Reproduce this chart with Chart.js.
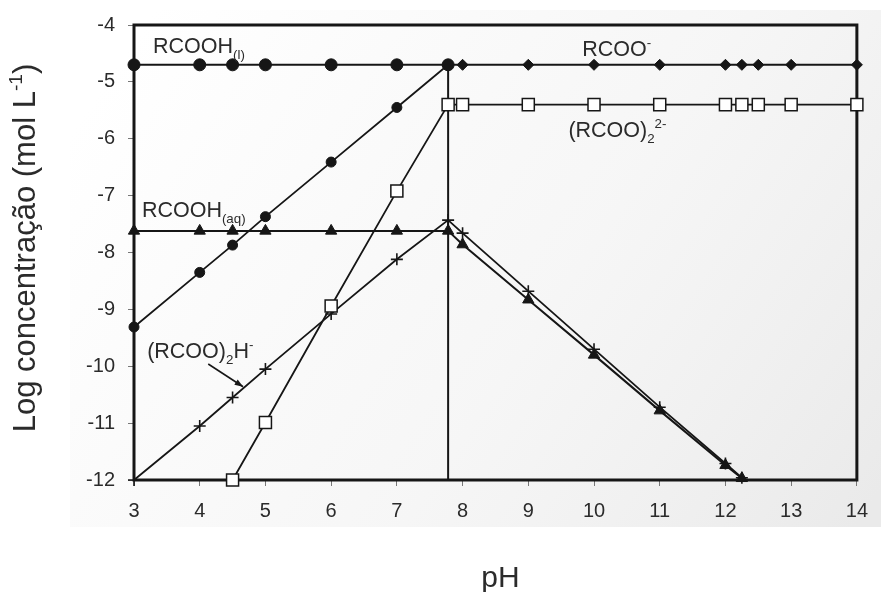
<!DOCTYPE html>
<html>
<head>
<meta charset="utf-8">
<title>Log concentração vs pH</title>
<script src="https://cdn.jsdelivr.net/npm/chart.js@4.4.0/dist/chart.umd.min.js"></script>
<style>
  html, body { margin: 0; padding: 0; background: #fff; }
  #wrap { width: 881px; height: 592px; position: relative; }
</style>
</head>
<body>
<div id="wrap"><canvas id="c" width="881" height="592"></canvas></div>
<script>
// ---- data -------------------------------------------------------------
// pH grid on the acid side (up to the saturation point) and on the basic side
const phAcid = [3, 4, 4.5, 5, 6, 7, 7.78];
const phBasic = [7.78, 8, 9, 10, 11, 12, 12.25, 12.5, 13, 14];
const phSaturation = 7.78;

// RCOOH(l): solid/liquid acid phase, constant
const rcoohLiquid = [-4.7, -4.7, -4.7, -4.7, -4.7, -4.7, -4.7];
// RCOO- below saturation (rises with pH)
const rcooRising = [-9.31, -8.35, -7.87, -7.37, -6.41, -5.45, -4.7];
// RCOO- above saturation (constant)
const rcooSaturated = [-4.7, -4.7, -4.7, -4.7, -4.7, -4.7, -4.7, -4.7, -4.7, -4.7];

// (RCOO)2 2- dimer
const phDimer = [4.5, 5, 6, 7, 7.78, 8, 9, 10, 11, 12, 12.25, 12.5, 13, 14];
const dimerValues = [-12, -10.99, -8.94, -6.92, -5.4, -5.4, -5.4, -5.4, -5.4, -5.4, -5.4, -5.4, -5.4, -5.4];

// RCOOH(aq)
const phAq = [3, 4, 4.5, 5, 6, 7, 7.78, 8, 9, 10, 11, 12, 12.25];
const rcoohAqueous = [-7.62, -7.62, -7.62, -7.62, -7.62, -7.62, -7.62, -7.86, -8.83, -9.8, -10.78, -11.74, -11.97];

// (RCOO)2H- acid dimer
const phAcidDimer = [3, 4, 4.5, 5, 6, 7, 7.78, 8, 9, 10, 11, 12, 12.25];
const acidDimerValues = [-12, -11.05, -10.55, -10.05, -9.08, -8.12, -7.43, -7.66, -8.68, -9.7, -10.72, -11.71, -11.96];

// axis ranges
const xRange = [3, 14];
const yRange = [-12, -4];

// ---- helpers ----------------------------------------------------------
const FONT = '"Liberation Sans", Arial, Helvetica, sans-serif';
const INK = '#161616';
const TEXT = '#2b2b2b';

function pts(xs, ys) { return xs.map((x, i) => ({ x, y: ys[i] })); }

// draws text runs with sub/superscripts, baseline at (x, y)
function drawRich(ctx, x, y, parts, size, align) {
  let total = 0;
  const runs = parts.map(p => {
    const s = (p.sub || p.sup) ? size * 0.62 : size;
    ctx.font = s + 'px ' + FONT;
    const w = ctx.measureText(p.t).width;
    total += w;
    return { t: p.t, s, w, dy: p.sub ? size * 0.28 : (p.sup ? -size * 0.42 : 0) };
  });
  let cx = align === 'center' ? x - total / 2 : x;
  for (const r of runs) {
    ctx.font = r.s + 'px ' + FONT;
    ctx.fillText(r.t, cx, y + r.dy);
    cx += r.w;
  }
}

// species labels, anchored in data units (pH, log c) at the text baseline start
const speciesLabels = [
  { x: 3.29, y: -4.49, parts: [{ t: 'RCOOH' }, { t: '(l)', sub: true }] },
  { x: 9.82, y: -4.54, parts: [{ t: 'RCOO' }, { t: '-', sup: true }] },
  { x: 9.61, y: -5.97, parts: [{ t: '(RCOO)' }, { t: '2', sub: true }, { t: '2-', sup: true }] },
  { x: 3.12, y: -7.37, parts: [{ t: 'RCOOH' }, { t: '(aq)', sub: true }] },
  { x: 3.20, y: -9.85, parts: [{ t: '(RCOO)' }, { t: '2', sub: true }, { t: 'H' }, { t: '-', sup: true }] }
];
const arrowFrom = { x: 4.13, y: -9.96 };
const arrowTo = { x: 4.66, y: -10.36 };

const decorPlugin = {
  id: 'decor',
  beforeDraw(chart) {
    const ctx = chart.ctx;
    ctx.save();
    ctx.fillStyle = '#ffffff';
    ctx.fillRect(0, 0, chart.width, chart.height);
    const g = ctx.createLinearGradient(140, 30, 860, 520);
    g.addColorStop(0, 'rgba(236,236,236,0)');
    g.addColorStop(0.55, 'rgba(238,238,238,0.5)');
    g.addColorStop(1, 'rgba(234,234,234,1)');
    ctx.fillStyle = g;
    ctx.fillRect(70, 10, chart.width - 70, 517);
    ctx.restore();
  },
  beforeDatasetsDraw(chart) {
    const { ctx, chartArea: a } = chart;
    ctx.save();
    ctx.strokeStyle = INK;
    ctx.lineWidth = 3;
    ctx.strokeRect(a.left, a.top, a.right - a.left, a.bottom - a.top);
    ctx.restore();
  },
  afterDatasetsDraw(chart) {
    const { ctx, scales: { x, y }, chartArea: a } = chart;
    ctx.save();
    ctx.fillStyle = TEXT;
    ctx.textAlign = 'left';
    ctx.textBaseline = 'alphabetic';
    for (const l of speciesLabels) {
      drawRich(ctx, x.getPixelForValue(l.x), y.getPixelForValue(l.y), l.parts, 21.5, 'left');
    }
    // pointer for the (RCOO)2H- label
    const x0 = x.getPixelForValue(arrowFrom.x), y0 = y.getPixelForValue(arrowFrom.y);
    const x1 = x.getPixelForValue(arrowTo.x), y1 = y.getPixelForValue(arrowTo.y);
    ctx.strokeStyle = INK;
    ctx.lineWidth = 1.6;
    ctx.beginPath(); ctx.moveTo(x0, y0); ctx.lineTo(x1, y1); ctx.stroke();
    const ang = Math.atan2(y1 - y0, x1 - x0);
    ctx.fillStyle = INK;
    ctx.beginPath();
    ctx.moveTo(x1, y1);
    ctx.lineTo(x1 - 9 * Math.cos(ang - 0.35), y1 - 9 * Math.sin(ang - 0.35));
    ctx.lineTo(x1 - 9 * Math.cos(ang + 0.35), y1 - 9 * Math.sin(ang + 0.35));
    ctx.closePath(); ctx.fill();

    // axis titles
    ctx.fillStyle = TEXT;
    drawRich(ctx, (a.left + a.right) / 2 + 5, 587, [{ t: 'pH' }], 30, 'center');
    ctx.translate(35, 248);
    ctx.rotate(-Math.PI / 2);
    drawRich(ctx, 0, 0, [{ t: 'Log concentração (mol L' }, { t: '-1', sup: true }, { t: ')' }], 31, 'center');
    ctx.restore();
  }
};

const lineBase = {
  showLine: true,
  borderColor: INK,
  borderWidth: 2,
  backgroundColor: INK,
  pointBorderColor: INK,
  pointBackgroundColor: INK,
  pointBorderWidth: 1,
  clip: false
};

const tickFont = { family: FONT, size: 20 };

new Chart(document.getElementById('c'), {
  type: 'scatter',
  data: {
    datasets: [
      Object.assign({}, lineBase, {
        label: 'RCOOH(l)', data: pts(phAcid, rcoohLiquid),
        pointStyle: 'circle', pointRadius: 6
      }),
      Object.assign({}, lineBase, {
        label: 'RCOO- (pH > 7,78)', data: pts(phBasic, rcooSaturated),
        pointStyle: 'rectRot', pointRadius: 5.5
      }),
      Object.assign({}, lineBase, {
        label: 'RCOO- (pH < 7,78)', data: pts(phAcid, rcooRising),
        pointStyle: 'circle', pointRadius: 5, borderWidth: 1.8
      }),
      Object.assign({}, lineBase, {
        label: '(RCOO)2 2-', data: pts(phDimer, dimerValues),
        pointStyle: 'rect', pointRadius: 8.5, pointBackgroundColor: '#ffffff',
        pointBorderWidth: 1.5, borderWidth: 1.8
      }),
      Object.assign({}, lineBase, {
        label: 'RCOOH(aq)', data: pts(phAq, rcoohAqueous),
        pointStyle: 'triangle', pointRadius: 6.5
      }),
      Object.assign({}, lineBase, {
        label: '(RCOO)2H-', data: pts(phAcidDimer, acidDimerValues),
        pointStyle: 'cross', pointRadius: 6, pointBorderWidth: 1.6, borderWidth: 1.8
      }),
      Object.assign({}, lineBase, {
        label: 'saturação', data: [{ x: phSaturation, y: yRange[0] }, { x: phSaturation, y: rcoohLiquid[rcoohLiquid.length - 1] }],
        pointRadius: 0, borderWidth: 2
      })
    ]
  },
  options: {
    responsive: false,
    animation: false,
    events: [],
    layout: { padding: { top: 22, right: 18, left: 0, bottom: 0 } },
    plugins: { legend: { display: false }, tooltip: { enabled: false } },
    scales: {
      x: {
        type: 'linear', min: xRange[0], max: xRange[1],
        ticks: { stepSize: 1, font: tickFont, color: TEXT, padding: 13, maxRotation: 0 },
        grid: { drawOnChartArea: false, drawTicks: true, tickLength: 6, color: '#777', lineWidth: 1 },
        border: { display: false },
        afterFit(s) { s.height = 112; }
      },
      y: {
        type: 'linear', min: yRange[0], max: yRange[1],
        ticks: { stepSize: 1, font: tickFont, color: TEXT, padding: 13 },
        grid: { drawOnChartArea: false, drawTicks: true, tickLength: 6, color: '#777', lineWidth: 1 },
        border: { display: false },
        afterFit(s) { s.width = 134; }
      }
    }
  },
  plugins: [decorPlugin]
});
</script>
</body>
</html>
